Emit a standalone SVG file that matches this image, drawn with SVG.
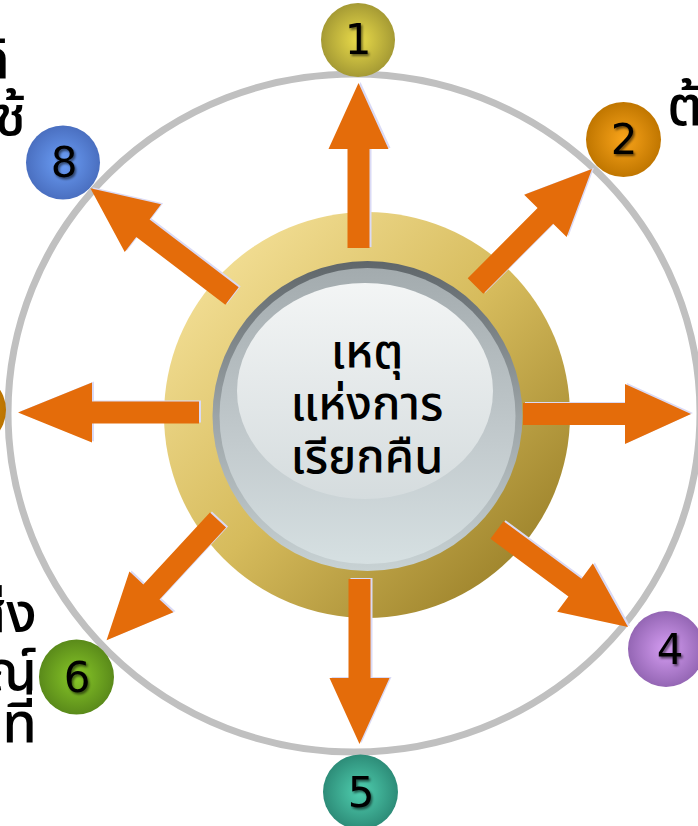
<svg xmlns="http://www.w3.org/2000/svg" xmlns:xlink="http://www.w3.org/1999/xlink" width="698" height="826" viewBox="0 0 698 826">
<defs>
<style>
.thai{font-family:"Noto Sans Thai","Noto Sans","DejaVu Sans",sans-serif;fill:#000}
.ctr{font-size:47px;text-anchor:middle;font-weight:500}
.side{font-size:56px;font-weight:500}
.num{font-family:"DejaVu Sans","Liberation Sans",sans-serif;font-size:42px;text-anchor:middle;fill:#000;filter:url(#ds)}
.arrow{fill:#e46c0a}
.ashadow{fill:#dadaf5}
</style>
<filter id="ds" x="-30%" y="-30%" width="160%" height="160%">
<feDropShadow dx="1.5" dy="2" stdDeviation="1" flood-color="#000" flood-opacity="0.55"/>
</filter>
<linearGradient id="gold" x1="0" y1="0" x2="1" y2="1">
<stop offset="0" stop-color="#fbe9a6"/>
<stop offset="0.5" stop-color="#d6bb5c"/>
<stop offset="1" stop-color="#8c721c"/>
</linearGradient>
<linearGradient id="rim" x1="0" y1="0" x2="0" y2="1">
<stop offset="0" stop-color="#5f666a"/>
<stop offset="0.5" stop-color="#9ca4a7"/>
<stop offset="1" stop-color="#c8d2d4"/>
</linearGradient>
<linearGradient id="face" x1="0" y1="0" x2="0" y2="1">
<stop offset="0" stop-color="#a3abae"/>
<stop offset="0.6" stop-color="#c3cbce"/>
<stop offset="1" stop-color="#d6e0e2"/>
</linearGradient>
<linearGradient id="hl" x1="0" y1="0" x2="0" y2="1">
<stop offset="0" stop-color="#f3f5f5"/>
<stop offset="1" stop-color="#d5dcde"/>
</linearGradient>
<radialGradient id="g1"><stop offset="0" stop-color="#eadc4a"/><stop offset="1" stop-color="#a59a34"/></radialGradient>
<radialGradient id="g2"><stop offset="0" stop-color="#f9a41a"/><stop offset="1" stop-color="#c07600"/></radialGradient>
<radialGradient id="g4"><stop offset="0" stop-color="#d59df2"/><stop offset="1" stop-color="#9466b4"/></radialGradient>
<radialGradient id="g5"><stop offset="0" stop-color="#50d0b0"/><stop offset="1" stop-color="#2d8c78"/></radialGradient>
<radialGradient id="g6"><stop offset="0" stop-color="#88c828"/><stop offset="1" stop-color="#5a8a1a"/></radialGradient>
<radialGradient id="g7"><stop offset="0" stop-color="#e09010"/><stop offset="1" stop-color="#bb7400"/></radialGradient>
<radialGradient id="g8"><stop offset="0" stop-color="#6c9ff7"/><stop offset="1" stop-color="#4a6fc0"/></radialGradient>
<path id="a1" d="M0,-11 H99 V-30 L165,0 L99,30 V11 H0 Z" transform="translate(358.5,248) rotate(-90)"/>
<path id="a2" d="M0,-11 H99 V-30 L165,0 L99,30 V11 H0 Z" transform="translate(475.5,286) rotate(-45.1)"/>
<path id="a3" d="M0,-11 H102 V-30 L168,0 L102,30 V11 H0 Z" transform="translate(523,414)"/>
<path id="a4" d="M0,-11 H97 V-30 L163,0 L97,30 V11 H0 Z" transform="translate(497,530) rotate(36.5)"/>
<path id="a5" d="M0,-11 H99 V-30 L165,0 L99,30 V11 H0 Z" transform="translate(359.5,579) rotate(90)"/>
<path id="a6" d="M0,-11 H98 V-30 L164,0 L98,30 V11 H0 Z" transform="translate(218,520) rotate(132.8)"/>
<path id="a7" d="M0,-11 H107 V-30 L181,0 L107,30 V11 H0 Z" transform="translate(199,412.5) rotate(180)"/>
<path id="a8" d="M0,-11 H112 V-30 L178,0 L112,30 V11 H0 Z" transform="translate(232,296) rotate(-142.7)"/>
</defs>
<rect width="698" height="826" fill="#fff"/>
<g id="outer-ring">
<ellipse cx="354" cy="413" rx="346" ry="339" fill="none" stroke="#c0c0c0" stroke-width="7"/>
</g>
<g id="gold-ring">
<circle cx="367" cy="415" r="203" fill="url(#gold)"/>
</g>
<g id="connectors">
<g class="ashadow" transform="translate(2,-1)">
<use xlink:href="#a1"/><use xlink:href="#a2"/><use xlink:href="#a3"/><use xlink:href="#a4"/><use xlink:href="#a5"/><use xlink:href="#a6"/><use xlink:href="#a7"/><use xlink:href="#a8"/>
</g>
<g class="arrow">
<use xlink:href="#a1"/><use xlink:href="#a2"/><use xlink:href="#a3"/><use xlink:href="#a4"/><use xlink:href="#a5"/><use xlink:href="#a6"/><use xlink:href="#a7"/><use xlink:href="#a8"/>
</g>
</g>
<g id="center">
<circle cx="367.5" cy="416" r="155" fill="url(#rim)"/>
<circle cx="367.5" cy="416" r="148" fill="url(#face)"/>
<ellipse cx="365" cy="391" rx="128" ry="108" fill="url(#hl)"/>
<text class="thai ctr" x="367" y="368">เหตุ</text>
<text class="thai ctr" x="367" y="420">แห่งการ</text>
<text class="thai ctr" x="367" y="473">เรียกคืน</text>
</g>
<g id="node1"><circle cx="358" cy="40" r="37" fill="url(#g1)"/><text class="num" x="358" y="54">1</text></g>
<g id="node2"><circle cx="623.5" cy="139.5" r="37.5" fill="url(#g2)"/><text class="num" x="624" y="154">2</text></g>
<g id="node4"><circle cx="666" cy="649" r="38" fill="url(#g4)"/><text class="num" x="670" y="664">4</text></g>
<g id="node5"><circle cx="360.5" cy="792" r="37.5" fill="url(#g5)"/><text class="num" x="361" y="807">5</text></g>
<g id="node6"><circle cx="76.5" cy="677" r="37.5" fill="url(#g6)"/><text class="num" x="77" y="692">6</text></g>
<g id="node7"><circle cx="-31" cy="410" r="37" fill="url(#g7)"/></g>
<g id="node8"><circle cx="63" cy="162.5" r="37" fill="url(#g8)"/><text class="num" x="64" y="177">8</text></g>
<g id="labels">
<text class="thai side" x="10" y="78" text-anchor="end">กิ</text>
<text class="thai side" x="26" y="135" text-anchor="end">ช้</text>
<text class="thai side" x="667" y="125">ต้</text>
<text class="thai side" x="37" y="632" text-anchor="end">ส่ง</text>
<text class="thai side" x="37" y="690" text-anchor="end">ณ์</text>
<text class="thai side" x="37" y="742" text-anchor="end">ที่</text>
</g>
</svg>
